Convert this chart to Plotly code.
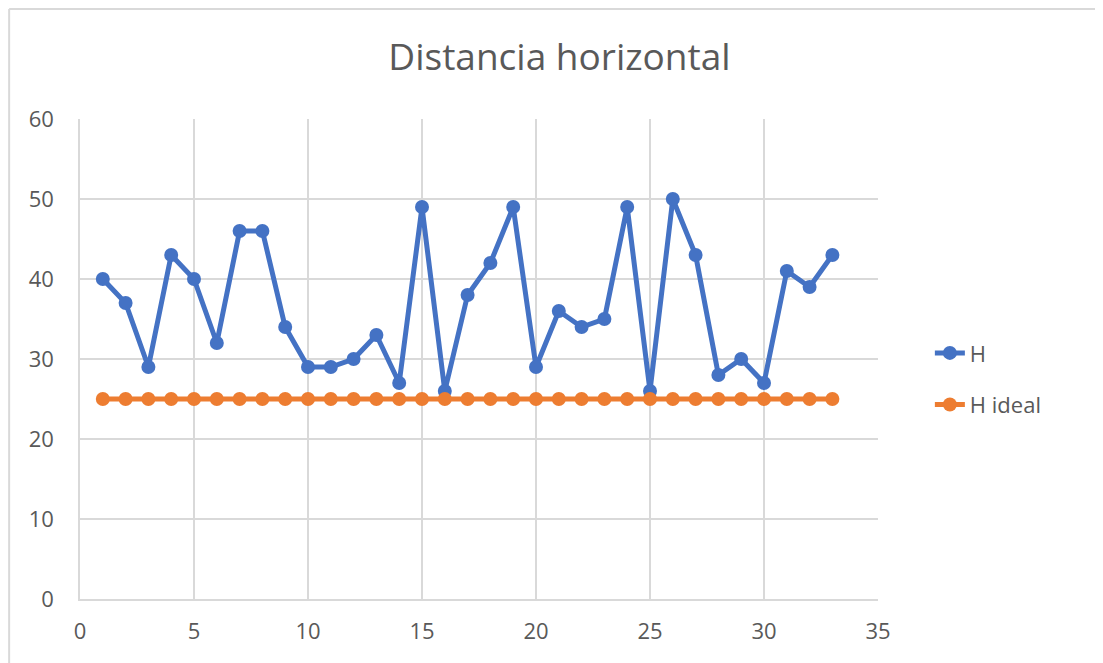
import plotly.graph_objects as go

x_vals = list(range(1, 34))
h_vals = [40, 37, 29, 43, 40, 32, 46, 46, 34, 29, 29, 30, 33, 27, 49, 26, 38, 42, 49, 29,
          36, 34, 35, 49, 26, 50, 43, 28, 30, 27, 41, 39, 43]
h_ideal = [25] * 33

blue = "#4472C4"
orange = "#ED7D31"
gray = "#595959"
grid = "#D9D9D9"
font_family = "Open Sans, Noto Sans, DejaVu Sans, sans-serif"

fig = go.Figure()
fig.add_trace(go.Scatter(x=x_vals, y=h_vals, mode="lines+markers", name="H",
                         legendgroup="a",
                         line=dict(color=blue, width=5),
                         marker=dict(color=blue, size=14)))
fig.add_trace(go.Scatter(x=x_vals, y=h_ideal, mode="lines+markers", name="H ideal",
                         legendgroup="b",
                         line=dict(color=orange, width=5),
                         marker=dict(color=orange, size=14)))

fig.update_layout(
    width=1103, height=663,
    paper_bgcolor="white", plot_bgcolor="white",
    margin=dict(l=72, r=233, t=111, b=72),
    title=dict(text="Distancia horizontal", x=0.5, xref="container", xanchor="center",
               y=1 - 49 / 663, yref="container", yanchor="middle",
               font=dict(family=font_family, size=37, color=gray)),
    font=dict(family=font_family, size=22, color=gray),
    xaxis=dict(range=[0, 35], dtick=5, tick0=0, showgrid=True, gridcolor=grid, gridwidth=1.5,
               zeroline=False, showline=True, linecolor=grid, linewidth=1.5,
               ticks="", ticklen=0, tickfont=dict(size=22, color=gray)),
    yaxis=dict(range=[0, 60], dtick=10, tick0=0, showgrid=True, gridcolor=grid, gridwidth=1.5,
               zeroline=False, showline=True, linecolor=grid, linewidth=1.5,
               ticks="outside", ticklen=20, tickcolor="rgba(0,0,0,0)",
               tickfont=dict(size=22, color=gray)),
    legend=dict(x=1.065, y=0.556, xanchor="left", yanchor="top",
                font=dict(size=22, color=gray), tracegroupgap=20,
                bgcolor="rgba(0,0,0,0)"),
    shapes=[
        dict(type="line", xref="paper", yref="paper", x0=-0.0888, x1=-0.0888, y0=-0.2, y1=1.229,
             line=dict(color=grid, width=2)),
        dict(type="line", xref="paper", yref="paper", x0=-0.0888, x1=1.35, y0=1.229, y1=1.229,
             line=dict(color=grid, width=2)),
    ],
)
fig.update_xaxes(ticklabelstandoff=12)

fig.write_html("out.html")
